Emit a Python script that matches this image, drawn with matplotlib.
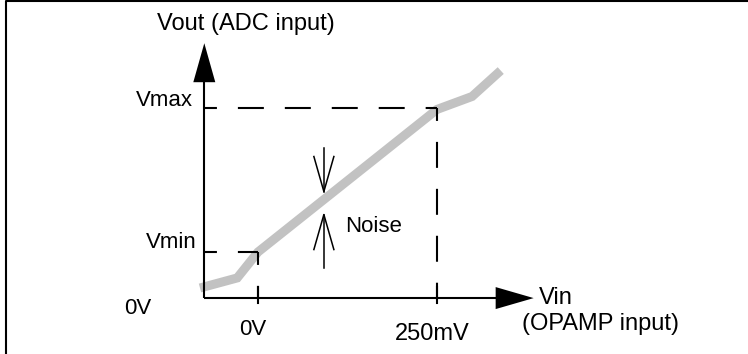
import matplotlib
matplotlib.use('Agg')
import matplotlib.pyplot as plt

plt.rcParams['font.family'] = ['Liberation Sans', 'DejaVu Sans']
plt.rcParams['lines.scale_dashes'] = False

# transfer curve: Vin in mV, Vout normalised so that Vmin = 0 and Vmax = 1
vin_mv = [-81, -29, 0, 250, 299, 339]
vout = [-0.25, -0.18, 0.0, 0.99, 1.08, 1.26]

vin_ticks = [0, 250]
vin_labels = ['0V', '250mV']
vout_levels = [0.0, 1.0]
vout_labels = ['Vmin', 'Vmax']

origin = (-75, -0.32)
vin_end = 385
vout_end = 1.45
noise_x = 92
noise_band = [0.26, 0.42]

# pixel scale of the drawing
SX = 179 / 250.0   # px per mV
SY = 144.0         # px per Vout unit
X0, Y0 = 258, 252  # pixel position of (0 mV, Vmin)


def px(x, y):
    """Pixel position -> data coordinates"""
    return (x - X0) / SX, (Y0 - y) / SY


fig = plt.figure(figsize=(7.48, 3.54), dpi=100)
ax = fig.add_axes([0, 0, 1, 1])
ax.set_xlim(px(0, 0)[0], px(748, 0)[0])
ax.set_ylim(px(0, 354)[1], px(0, 0)[1])
ax.axis('off')

ox, oy = origin
lw = 1.5

# frame (left and top edge only, rest is cropped)
bx, by = zip(px(5.5, 354), px(5.5, 1), px(748, 1))
ax.plot(bx, by, color='black', lw=lw, clip_on=False)

# transfer curve
ax.plot(vin_mv, vout, color='#c2c2c2', lw=6.5, solid_capstyle='butt',
        solid_joinstyle='miter', zorder=1)

# axes with filled arrow heads
hl_y, hw_x = 39 / SY, 11 / SX
ax.plot([ox, ox], [oy, vout_end - hl_y], color='black', lw=lw, solid_capstyle='butt')
ax.fill([ox - hw_x, ox + hw_x, ox], [vout_end - hl_y] * 2 + [vout_end], color='black', lw=0)

hl_x, hw_y = 38 / SX, 11 / SY
ax.plot([ox, vin_end - hl_x], [oy, oy], color='black', lw=lw, solid_capstyle='butt')
ax.fill([vin_end - hl_x] * 2 + [vin_end], [oy - hw_y, oy + hw_y, oy], color='black', lw=0)

# dashed guides from Vmin / Vmax to the input range
dash = (9.4, (18.7, 15.1))
for xv, yv in zip(vin_ticks, vout_levels):
    ax.plot([ox, xv], [yv, yv], color='black', lw=lw, ls=dash, zorder=2)
    ax.plot([xv, xv], [yv, oy], color='black', lw=lw, ls=dash, zorder=2)
    t0, t1 = px(0, 287)[1], px(0, 303)[1]
    ax.plot([xv, xv], [t0, t1], color='black', lw=lw, zorder=2)

# noise arrows (open heads)
nh_l, nh_w = 35 / SY, 10 / SX
top_tail, bot_tail = 0.72, -0.11
tip = noise_band[1]
ax.plot([noise_x, noise_x], [top_tail, tip], color='black', lw=1.1)
ax.plot([noise_x - nh_w, noise_x, noise_x + nh_w], [tip + nh_l, tip, tip + nh_l],
        color='black', lw=1.1)
tip = noise_band[0]
ax.plot([noise_x, noise_x], [bot_tail, tip], color='black', lw=1.1)
ax.plot([noise_x - nh_w, noise_x, noise_x + nh_w], [tip - nh_l, tip, tip - nh_l],
        color='black', lw=1.1)

# labels
fs, fl = 16, 17
ax.text(*px(157, 30), 'Vout (ADC input)', fontsize=fl, ha='left', va='baseline')
ax.text(*px(193, 106), vout_labels[1], fontsize=fs, ha='right', va='baseline')
ax.text(*px(197, 248), vout_labels[0], fontsize=fs, ha='right', va='baseline')
ax.text(*px(124, 314), '0V', fontsize=fs, ha='left', va='baseline')
ax.text(px(253, 0)[0], px(0, 335)[1], vin_labels[0], fontsize=fs, ha='center', va='baseline')
ax.text(px(432, 0)[0], px(0, 340)[1], vin_labels[1], fontsize=fl, ha='center', va='baseline')
ax.text(*px(539, 304), 'Vin', fontsize=fl, ha='left', va='baseline')
ax.text(*px(522, 330), '(OPAMP input)', fontsize=fl, ha='left', va='baseline')
ax.text(*px(345, 232), 'Noise', fontsize=fs, ha='left', va='baseline')

fig.savefig('out.png', dpi=100)
